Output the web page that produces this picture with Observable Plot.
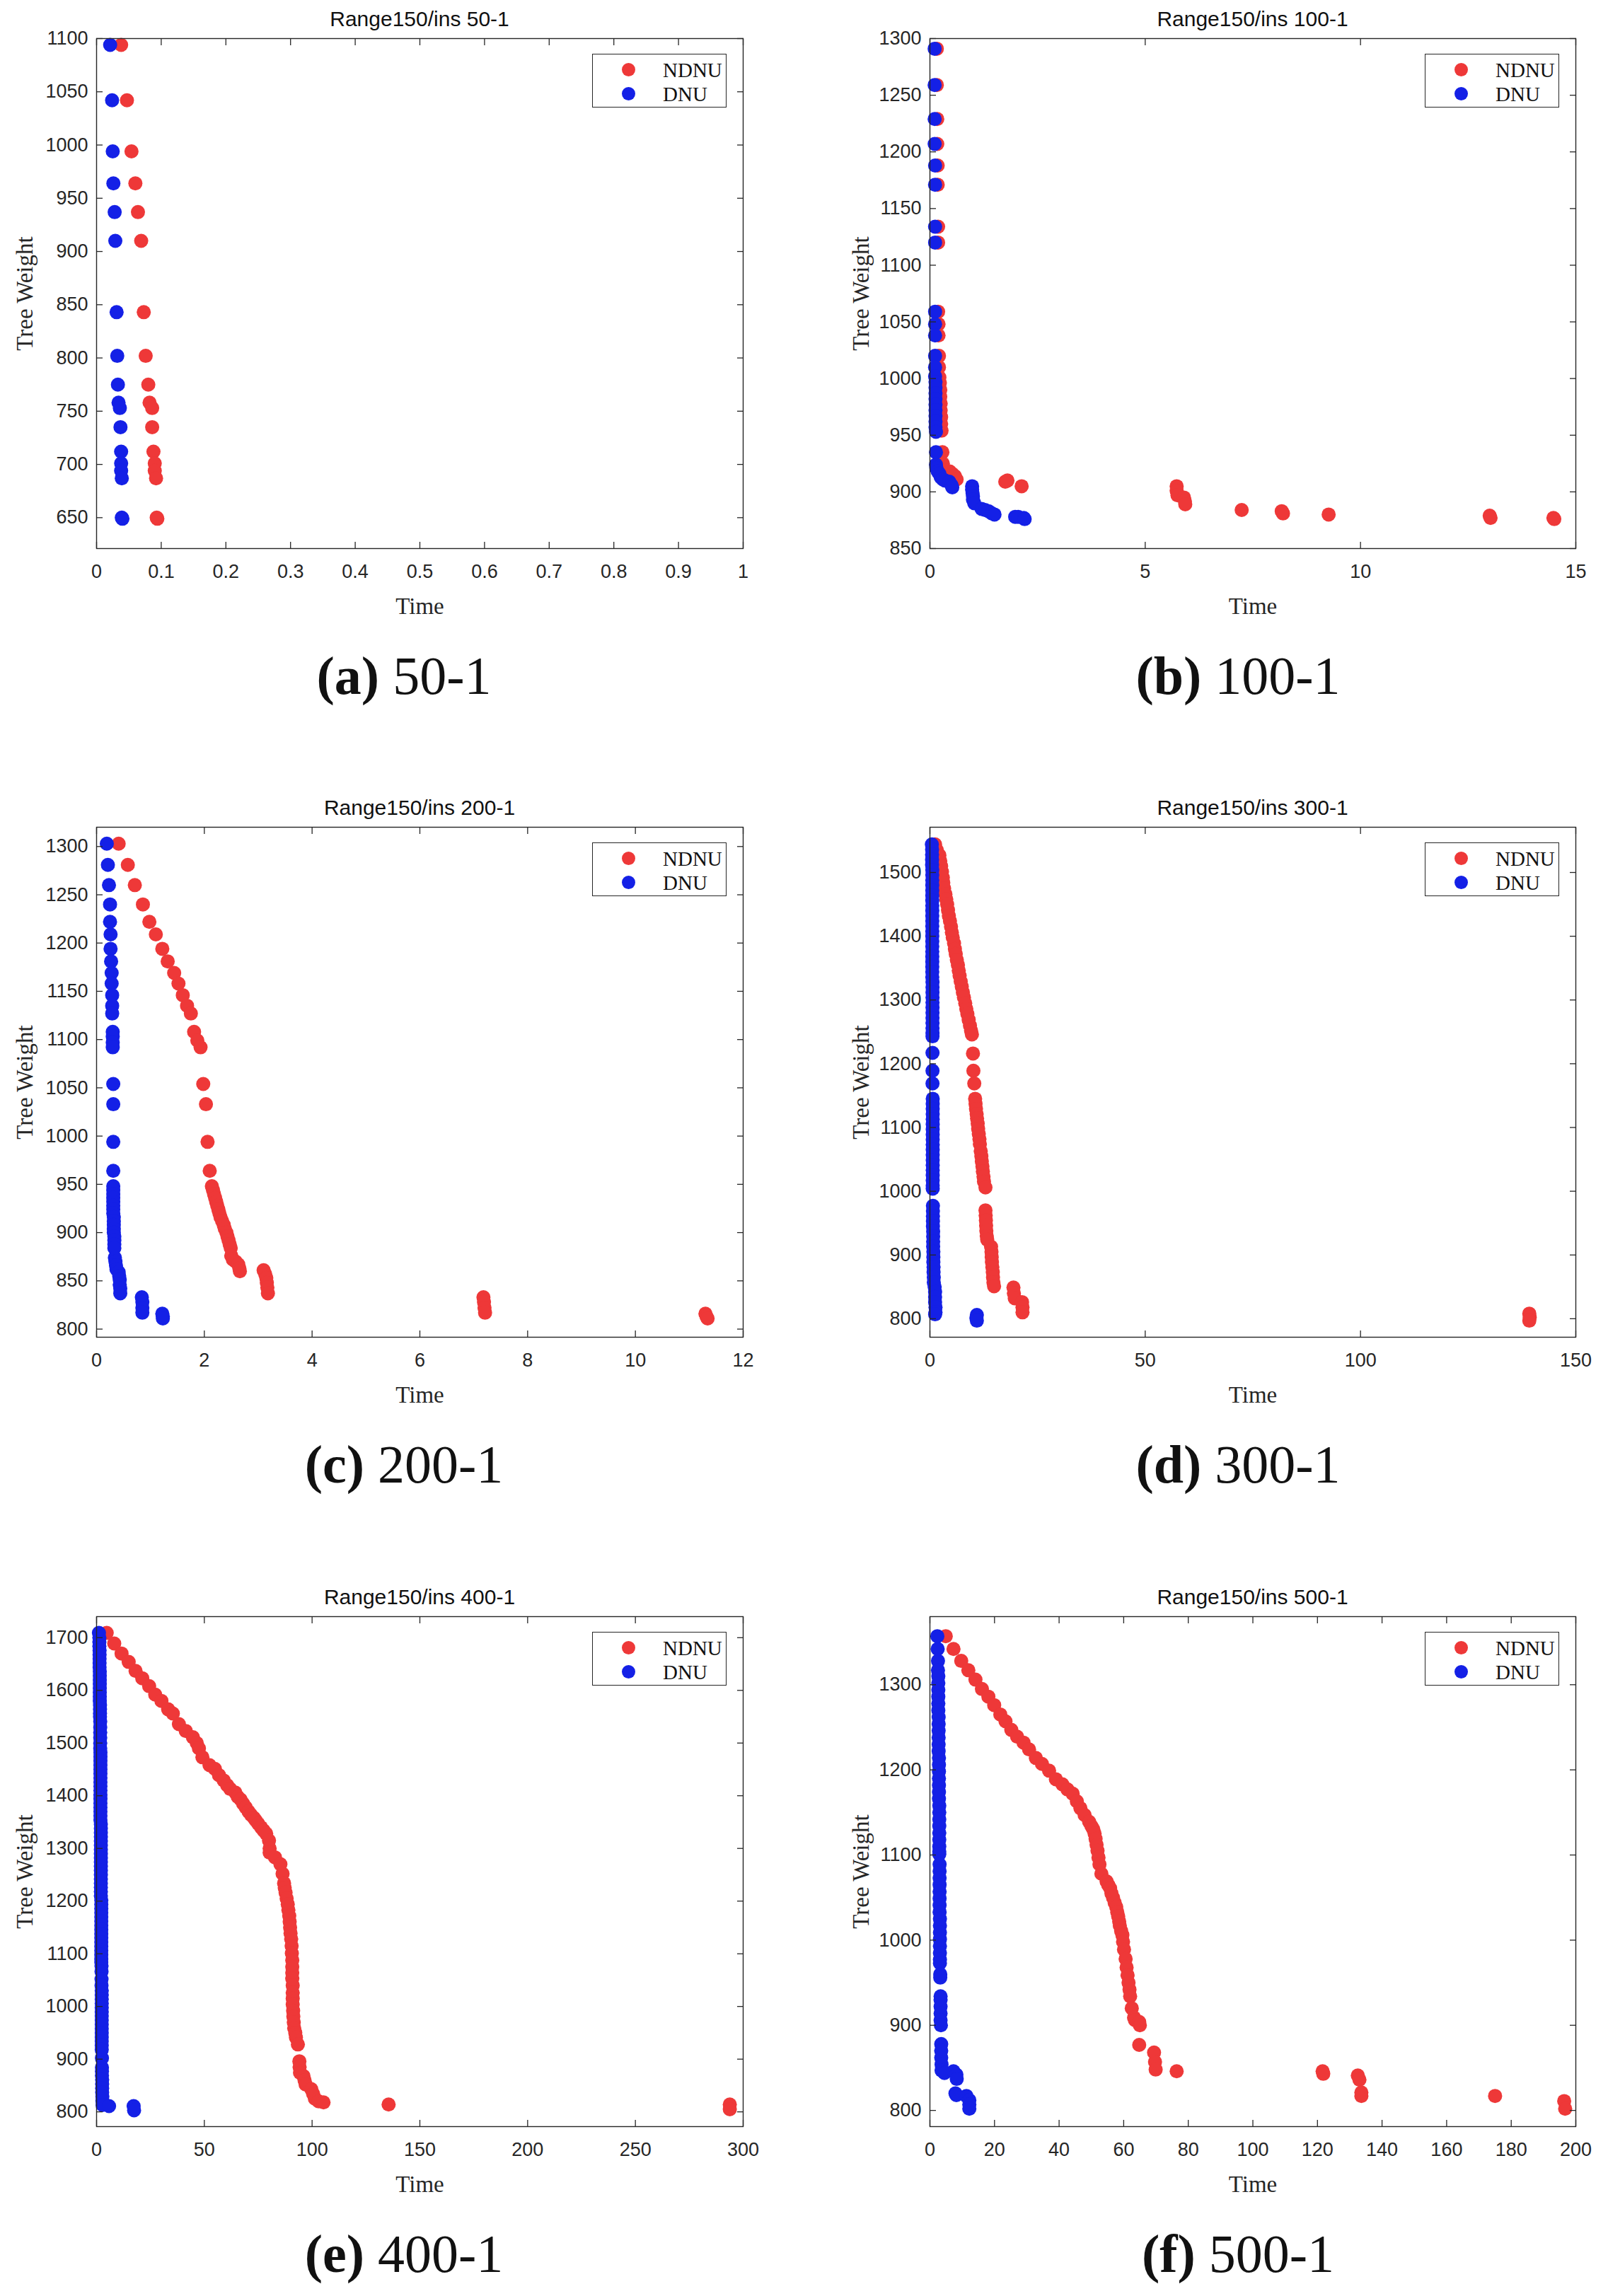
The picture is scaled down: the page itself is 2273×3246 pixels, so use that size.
<!DOCTYPE html>
<html>
<head>
<meta charset="utf-8">
<script src="https://cdn.jsdelivr.net/npm/d3@7"></script>
<script src="https://cdn.jsdelivr.net/npm/@observablehq/plot@0.6"></script>
<style>
  body { margin: 0; background: #fff; }
  #page { position: relative; width: 2273px; height: 3246px; background: #fff; }
  .panel { position: absolute; width: 1136px; height: 1116px; }
  .panel svg { position: absolute; top: 34px; left: 0; }
  .title { position: absolute; top: 10px; height: 34px; line-height: 34px; text-align: center;
           font-family: "Liberation Sans", Arial, sans-serif; font-size: 30px; color: #111; }
  .legend { position: absolute; top: 76px; width: 190px; height: 76px; box-sizing: border-box;
            border: 1.3px solid #262626; background: #fff; font-family: "Liberation Serif", serif; font-size: 29px; }
  .legend .m { position: absolute; left: 41px; width: 19px; height: 19px; border-radius: 50%; }
  .legend .t { position: absolute; left: 99px; height: 30px; line-height: 30px; color: #111; }
  .caption { position: absolute; top: 908px; width: 800px; height: 94px; line-height: 94px; text-align: center;
             font-family: "Liberation Serif", serif; font-size: 76px; color: #111; }
  g[aria-label="x-axis label"], g[aria-label="y-axis label"] { font-family: "Liberation Serif", serif; font-size: 33px; }
</style>
</head>
<body>
<div id="page"></div>
<script>
const RED = "#ee3838";
const BLUE = "#1420e6";

// ---- 50-1 ----
const ndnu50 = [[0.038,1094],[0.047,1042],[0.054,994],[0.060,964],[0.064,937],[0.069,910],[0.073,843],[0.076,802],[0.080,775],[0.082,758],[0.086,753],[0.086,735],[0.088,712],[0.090,701],[0.090,694],[0.092,687],[0.093,650],[0.094,649]];
const dnu50 = [[0.021,1094],[0.024,1042],[0.025,994],[0.026,964],[0.028,937],[0.029,910],[0.031,843],[0.032,802],[0.033,775],[0.034,758],[0.036,753],[0.037,735],[0.038,712],[0.038,701],[0.038,694],[0.039,687],[0.039,650],[0.040,649]];
const xTicks50 = [0, 0.1, 0.2, 0.3, 0.4, 0.5, 0.6, 0.7, 0.8, 0.9, 1];
const yTicks50 = [650, 700, 750, 800, 850, 900, 950, 1000, 1050, 1100];

// ---- 100-1 ----
const ndnu100 = [[0.16,1291],[0.16,1259],[0.17,1229],[0.17,1207],[0.18,1188],[0.18,1171],[0.19,1134],[0.19,1120],[0.19,1059],[0.2,1048],[0.2,1038],[0.21,1020],[0.21,1010],[0.22,1001],[0.23,996],[0.24,990],[0.24,984],[0.25,978],[0.25,972],[0.26,966],[0.26,960],[0.27,954],[0.29,935],[0.3,925],[0.35,919],[0.46,918],[0.52,916],[0.58,914],[0.62,911],[1.75,909],[1.8,910],[2.13,905],[5.73,905],[5.73,901],[5.75,897],[5.9,895],[5.92,892],[5.93,889],[7.24,884],[8.17,883],[8.2,881],[9.26,880],[13,879],[13.02,877],[14.48,877],[14.5,876]];
const dnu100 = [[0.11,1291],[0.11,1259],[0.11,1229],[0.11,1207],[0.12,1188],[0.12,1171],[0.12,1134],[0.12,1120],[0.12,1059],[0.12,1048],[0.12,1038],[0.12,1020],[0.12,1010],[0.12,1002],[0.13,997],[0.13,992],[0.13,987],[0.13,982],[0.13,977],[0.13,972],[0.13,967],[0.13,962],[0.13,957],[0.14,953],[0.14,935],[0.14,924],[0.15,921],[0.18,918],[0.22,916],[0.25,913],[0.3,911],[0.35,910],[0.45,909],[0.5,906],[0.52,904],[0.98,905],[0.98,902],[0.99,899],[1.0,896],[1.0,893],[1.03,890],[1.2,885],[1.28,884],[1.36,883],[1.44,881],[1.5,880],[1.98,878],[2.05,878],[2.18,877],[2.2,876]];
const xTicks100 = [0, 5, 10, 15];
const yTicks100 = [850, 900, 950, 1000, 1050, 1100, 1150, 1200, 1250, 1300];

// ---- 200-1 ----
const ndnu200 = [[0.41,1303],[0.58,1281],[0.71,1260],[0.86,1240],[0.98,1222],[1.10,1209],[1.22,1194],[1.32,1181],[1.44,1169],[1.52,1158],[1.60,1146],[1.68,1135],[1.75,1127],[1.81,1108],[1.87,1099],[1.93,1092],[1.98,1054],[2.03,1033],[2.06,994],[2.10,964],[2.14,948],[2.16,944],[2.18,940],[2.20,936],[2.22,932],[2.24,928],[2.26,924],[2.28,920],[2.30,916],[2.33,912],[2.36,908],[2.38,904],[2.41,900],[2.43,896],[2.45,892],[2.47,888],[2.49,884],[2.50,876],[2.53,872],[2.58,870],[2.63,867],[2.65,863],[2.66,860],[3.10,861],[3.13,857],[3.15,853],[3.16,848],[3.17,843],[3.18,837],[7.18,833],[7.19,828],[7.20,822],[7.21,817],[11.30,816],[11.32,813],[11.34,811]];
const dnu200 = [[0.19,1303],[0.21,1281],[0.23,1260],[0.25,1240],[0.25,1222],[0.26,1209],[0.26,1194],[0.27,1181],[0.28,1169],[0.28,1158],[0.29,1146],[0.29,1135],[0.29,1127],[0.30,1108],[0.30,1103],[0.30,1097],[0.30,1092],[0.31,1054],[0.31,1033],[0.31,994],[0.31,964],[0.31,948],[0.31,944],[0.31,940],[0.31,936],[0.31,932],[0.31,928],[0.31,924],[0.31,920],[0.32,916],[0.32,912],[0.32,908],[0.32,904],[0.32,900],[0.33,896],[0.33,892],[0.33,888],[0.33,884],[0.34,874],[0.35,870],[0.36,866],[0.37,862],[0.41,859],[0.42,855],[0.43,851],[0.43,846],[0.44,842],[0.44,837],[0.84,833],[0.85,828],[0.85,822],[0.85,817],[1.22,816],[1.23,813],[1.23,811]];
const xTicks200 = [0, 2, 4, 6, 8, 10, 12];
const yTicks200 = [800, 850, 900, 950, 1000, 1050, 1100, 1150, 1200, 1250, 1300];

// ---- 300-1 ----
const ndnu300 = [[1.2,1544],[1.6,1535],[2.2,1527],[2.4,1518],[2.6,1510],[2.8,1501],[3.0,1492],[3.1,1484],[3.3,1475],[3.6,1466],[3.8,1458],[4.0,1450],[4.2,1441],[4.4,1432],[4.65,1424],[4.9,1415],[5.1,1406],[5.3,1398],[5.6,1389],[5.8,1380],[6.0,1372],[6.25,1363],[6.5,1355],[6.7,1346],[6.9,1338],[7.15,1329],[7.4,1321],[7.65,1312],[7.9,1304],[8.2,1295],[8.45,1286],[8.7,1278],[9.0,1269],[9.3,1260],[9.55,1252],[9.75,1246],[10.0,1216],[10.1,1189],[10.3,1169],[10.5,1145],[10.6,1137],[10.7,1129],[10.85,1121],[10.95,1114],[11.1,1106],[11.2,1098],[11.35,1090],[11.5,1082],[11.6,1074],[11.8,1063],[11.95,1055],[12.05,1047],[12.2,1039],[12.3,1031],[12.45,1023],[12.55,1015],[12.9,1006],[12.9,970],[12.95,962],[13.0,954],[13.05,946],[13.1,938],[13.2,930],[13.3,924],[14.2,913],[14.3,905],[14.35,897],[14.4,889],[14.5,881],[14.6,873],[14.65,865],[14.75,857],[14.9,851],[19.4,849],[19.5,840],[19.7,832],[21.4,826],[21.5,818],[21.5,810],[139.2,808],[139.3,802],[139.2,797]];
const dnu300 = [[0.45,1544],[0.5,1536],[0.5,1528],[0.5,1520],[0.5,1512],[0.55,1504],[0.55,1496],[0.55,1488],[0.55,1480],[0.55,1472],[0.55,1464],[0.55,1456],[0.55,1448],[0.55,1440],[0.55,1432],[0.55,1424],[0.55,1416],[0.55,1408],[0.55,1400],[0.55,1392],[0.55,1384],[0.55,1376],[0.55,1368],[0.55,1360],[0.55,1352],[0.55,1344],[0.55,1336],[0.6,1328],[0.6,1320],[0.6,1312],[0.6,1304],[0.6,1296],[0.6,1288],[0.6,1280],[0.6,1272],[0.6,1264],[0.6,1256],[0.6,1248],[0.6,1243],[0.6,1217],[0.6,1189],[0.6,1169],[0.65,1145],[0.65,1137],[0.65,1129],[0.65,1121],[0.65,1113],[0.65,1105],[0.65,1097],[0.65,1089],[0.65,1081],[0.65,1073],[0.65,1065],[0.65,1057],[0.65,1049],[0.65,1041],[0.65,1033],[0.65,1025],[0.65,1017],[0.65,1009],[0.65,1004],[0.7,977],[0.7,969],[0.7,961],[0.7,953],[0.7,945],[0.75,937],[0.75,929],[0.75,921],[0.75,913],[0.8,905],[0.8,897],[0.8,889],[0.85,881],[0.85,873],[0.9,865],[0.9,857],[1.1,850],[1.2,842],[1.2,834],[1.2,826],[1.3,818],[1.3,810],[1.2,807],[10.9,806],[10.8,801],[10.9,797]];
const xTicks300 = [0, 50, 100, 150];
const yTicks300 = [800, 900, 1000, 1100, 1200, 1300, 1400, 1500];

// ---- 400-1 ----
const ndnu400 = [[4.7,1709],[8.2,1689],[11.6,1670],[14.9,1654],[18.1,1637],[21.2,1623],[24.4,1608],[27.2,1592],[30.1,1580],[33.2,1564],[35.4,1556],[38.2,1536],[41.4,1523],[44.7,1511],[46.5,1500],[47.5,1490],[49.1,1473],[52.4,1458],[54.9,1451],[56.8,1439],[59,1429],[60.6,1420],[62,1413],[64.4,1406],[65.5,1398],[66.8,1393],[68,1385],[69.2,1378],[70.5,1370],[71.6,1364],[73,1358],[73.9,1353],[75,1347],[76.3,1340],[77.5,1334],[78.7,1328],[80,1315],[80.3,1300],[80.3,1292],[82.8,1283],[85.3,1270],[86.3,1252],[87,1234],[87.3,1225],[87.7,1216],[88.2,1205],[88.7,1194],[89,1183],[89.4,1172],[89.6,1161],[89.8,1150],[90,1139],[90.3,1128],[90.5,1115],[90.6,1101],[90.8,1088],[90.8,1075],[90.8,1064],[90.8,1053],[91,1040],[91,1026],[91,1015],[91,1004],[91.2,992],[91.3,981],[91.5,970],[91.7,959],[92.2,950],[92.5,941],[93.4,928],[94.1,896],[94.2,885],[94.4,874],[96,868],[96.5,860],[97,852],[99.6,843],[100.5,834],[101.3,825],[103,820],[105.3,818],[135.5,814],[293.8,814],[293.8,805]];
const dnu400 = [[1.1,1709],[1.3,1700],[1.3,1692],[1.3,1684],[1.4,1676],[1.4,1668],[1.4,1660],[1.4,1652],[1.4,1644],[1.5,1636],[1.5,1628],[1.5,1620],[1.5,1612],[1.5,1604],[1.5,1596],[1.5,1588],[1.5,1580],[1.6,1572],[1.6,1564],[1.6,1556],[1.6,1550],[1.7,1541],[1.7,1530],[1.7,1520],[1.7,1510],[1.7,1500],[1.7,1490],[1.8,1482],[1.8,1474],[1.8,1466],[1.8,1458],[1.8,1450],[1.8,1442],[1.8,1434],[1.8,1426],[1.8,1418],[1.8,1410],[1.8,1402],[1.8,1394],[1.8,1386],[1.8,1378],[1.8,1370],[1.8,1362],[1.8,1354],[2.0,1346],[2.0,1338],[2.0,1330],[2.0,1322],[2.0,1314],[2.0,1306],[2.0,1298],[2.0,1290],[2.0,1282],[2.0,1274],[2.0,1266],[2.0,1258],[2.0,1250],[2.0,1242],[2.0,1234],[2.0,1226],[2.0,1218],[2.0,1210],[2.2,1202],[2.2,1194],[2.2,1186],[2.2,1178],[2.2,1170],[2.2,1162],[2.2,1154],[2.2,1146],[2.2,1138],[2.2,1130],[2.2,1122],[2.2,1114],[2.2,1106],[2.2,1098],[2.2,1090],[2.2,1084],[2.3,1077],[2.3,1066],[2.3,1052],[2.3,1040],[2.4,1030],[2.4,1022],[2.4,1014],[2.4,1006],[2.4,998],[2.4,990],[2.4,982],[2.4,974],[2.4,966],[2.4,958],[2.4,950],[2.4,942],[2.4,934],[2.4,926],[2.4,918],[2.5,902],[2.5,884],[2.5,877],[2.5,869],[2.6,861],[2.6,853],[2.6,845],[2.6,837],[2.7,829],[2.7,821],[2.8,813],[5.8,811],[17.2,811],[17.4,803]];
const xTicks400 = [0, 50, 100, 150, 200, 250, 300];
const yTicks400 = [800, 900, 1000, 1100, 1200, 1300, 1400, 1500, 1600, 1700];

// ---- 500-1 ----
const ndnu500 = [[4.9,1357],[7.3,1342],[9.7,1328],[11.9,1317],[14.1,1306],[16.1,1295],[18.1,1286],[19.9,1276],[21.8,1265],[23.4,1257],[25.2,1247],[27,1239],[29,1232],[30.7,1224],[32.8,1214],[34.7,1207],[36.9,1199],[39,1189],[41,1183],[42.6,1177],[44.2,1172],[45.5,1163],[46.6,1155],[47.9,1147],[49.3,1139],[50,1134],[50.6,1130],[51,1125],[51.3,1119],[51.6,1112],[51.9,1105],[52.2,1097],[52.5,1089],[53.1,1078],[54.7,1069],[55.2,1065],[55.8,1061],[56.2,1055],[56.7,1050],[57.2,1044],[57.7,1039],[58,1033],[58.3,1028],[58.6,1022],[58.8,1017],[59.2,1011],[59.6,1006],[59.8,998],[60.1,989],[60.6,978],[60.9,968],[61.2,959],[61.5,950],[61.8,942],[62,934],[62.5,920],[63.2,909],[63.5,906],[64.8,904],[65,900],[64.8,877],[69.4,868],[69.7,857],[69.9,848],[76.4,846],[121.6,846],[121.8,843],[132.5,841],[133,836],[133.6,821],[133.6,817],[175,817],[196.4,811],[196.7,802]];
const dnu500 = [[2.3,1357],[2.4,1342],[2.5,1328],[2.5,1317],[2.6,1310],[2.6,1302],[2.6,1294],[2.6,1286],[2.6,1278],[2.6,1270],[2.7,1262],[2.7,1254],[2.7,1246],[2.7,1238],[2.7,1230],[2.7,1222],[2.8,1214],[2.8,1206],[2.8,1198],[2.8,1190],[2.8,1182],[2.8,1174],[2.8,1166],[2.9,1158],[2.9,1150],[2.9,1142],[2.9,1134],[2.9,1126],[2.9,1118],[2.9,1110],[2.9,1104],[2.9,1101],[3.0,1089],[3.0,1081],[3.0,1073],[3.0,1065],[3.0,1057],[3.0,1049],[3.0,1041],[3.0,1033],[3.1,1025],[3.1,1017],[3.1,1009],[3.1,1001],[3.1,993],[3.1,985],[3.1,977],[3.1,973],[3.2,960],[3.2,956],[3.3,934],[3.3,930],[3.3,922],[3.3,914],[3.3,906],[3.4,900],[3.5,878],[3.5,870],[3.5,862],[3.6,854],[3.6,847],[4.5,844],[7.3,846],[8.2,842],[8.3,837],[7.9,820],[8.2,818],[11.3,817],[12.2,812],[12.2,807],[12.2,802]];
const xTicks500 = [0, 20, 40, 60, 80, 100, 120, 140, 160, 180, 200];
const yTicks500 = [800, 900, 1000, 1100, 1200, 1300];

const panels = [
  {title: "Range150/ins 50-1",  letter: "(a)", name: "50-1",  ndnu: ndnu50,  dnu: dnu50,  xDomain: [0, 1],   yDomain: [621, 1100],  xTicks: xTicks50,  yTicks: yTicks50},
  {title: "Range150/ins 100-1", letter: "(b)", name: "100-1", ndnu: ndnu100, dnu: dnu100, xDomain: [0, 15],  yDomain: [850, 1300],  xTicks: xTicks100, yTicks: yTicks100},
  {title: "Range150/ins 200-1", letter: "(c)", name: "200-1", ndnu: ndnu200, dnu: dnu200, xDomain: [0, 12],  yDomain: [791.6, 1320], xTicks: xTicks200, yTicks: yTicks200},
  {title: "Range150/ins 300-1", letter: "(d)", name: "300-1", ndnu: ndnu300, dnu: dnu300, xDomain: [0, 150], yDomain: [771, 1571],  xTicks: xTicks300, yTicks: yTicks300},
  {title: "Range150/ins 400-1", letter: "(e)", name: "400-1", ndnu: ndnu400, dnu: dnu400, xDomain: [0, 300], yDomain: [772, 1740],  xTicks: xTicks400, yTicks: yTicks400},
  {title: "Range150/ins 500-1", letter: "(f)", name: "500-1", ndnu: ndnu500, dnu: dnu500, xDomain: [0, 200], yDomain: [781, 1380],  xTicks: xTicks500, yTicks: yTicks500}
];

// layout per column / row
const cols = [
  {left: 0,    width: 1136, mL: 136, mR: 86, yLabelOffset: 114, captionCenter: 571},
  {left: 1136, width: 1137, mL: 178, mR: 46, yLabelOffset: 110, captionCenter: 614}
];
const rowTops = [0, 1115, 2231];
const frameH = 721;
const mT = 20, mB = 110;

const page = document.getElementById("page");
const ink = "#262626";
const fmt = d => String(d);

panels.forEach((p, i) => {
  const c = cols[i % 2];
  const div = document.createElement("div");
  div.className = "panel";
  div.style.left = c.left + "px";
  div.style.top = rowTops[Math.floor(i / 2)] + "px";
  div.style.width = c.width + "px";

  const frameRight = c.width - c.mR;

  const title = document.createElement("div");
  title.className = "title";
  title.style.left = c.mL + "px";
  title.style.width = (frameRight - c.mL) + "px";
  title.textContent = p.title;
  div.appendChild(title);

  const chart = Plot.plot({
    width: c.width,
    height: mT + frameH + mB,
    marginTop: mT,
    marginBottom: mB,
    marginLeft: c.mL,
    marginRight: c.mR,
    x: {domain: p.xDomain},
    y: {domain: p.yDomain},
    style: {fontFamily: "Liberation Sans, Arial, sans-serif", fontSize: "27px", color: ink, background: "transparent", overflow: "visible"},
    marks: [
      Plot.dot(p.ndnu, {x: d => d[0], y: d => d[1], r: 10, fill: RED, stroke: null}),
      Plot.dot(p.dnu, {x: d => d[0], y: d => d[1], r: 10, fill: BLUE, stroke: null}),
      Plot.frame({stroke: ink, strokeWidth: 1.4}),
      Plot.axisX(p.xTicks, {anchor: "bottom", tickSize: -9, tickPadding: 31, strokeWidth: 1.3, tickFormat: fmt,
                            label: "Time", labelAnchor: "center", labelOffset: 92, labelArrow: false}),
      Plot.axisX(p.xTicks, {anchor: "top", tickSize: -9, strokeWidth: 1.3, tickFormat: () => "", label: null}),
      Plot.axisY(p.yTicks, {anchor: "left", tickSize: -9, tickPadding: 21, strokeWidth: 1.3, tickFormat: fmt,
                            label: "Tree Weight", labelAnchor: "center", labelOffset: c.yLabelOffset, labelArrow: false}),
      Plot.axisY(p.yTicks, {anchor: "right", tickSize: -9, strokeWidth: 1.3, tickFormat: () => "", label: null})
    ]
  });
  div.appendChild(chart);

  const legend = document.createElement("div");
  legend.className = "legend";
  legend.style.left = (frameRight - 23 - 190) + "px";
  legend.innerHTML =
    `<span class="m" style="top:12px;background:${RED}"></span><span class="t" style="top:7px">NDNU</span>` +
    `<span class="m" style="top:46px;background:${BLUE}"></span><span class="t" style="top:41px">DNU</span>`;
  div.appendChild(legend);

  const cap = document.createElement("div");
  cap.className = "caption";
  cap.style.left = (c.captionCenter - 400) + "px";
  cap.innerHTML = `<b>${p.letter}</b> ${p.name}`;
  div.appendChild(cap);

  page.appendChild(div);
});
</script>
</body>
</html>
